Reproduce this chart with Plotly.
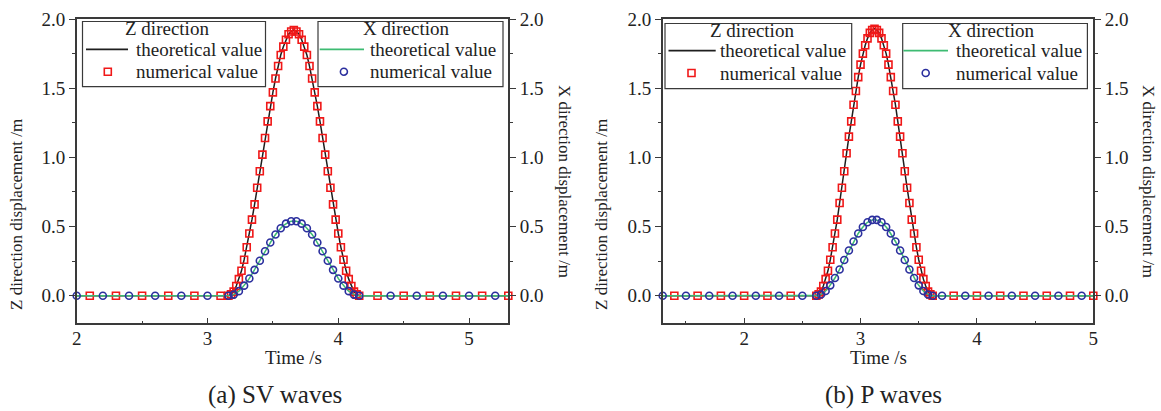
import plotly.graph_objects as go

# ---------------- data ----------------
# (a) SV waves
SV_PULSE_T = [3.16, 3.18, 3.20, 3.22, 3.24, 3.26, 3.28, 3.30, 3.32, 3.34,
              3.36, 3.38, 3.40, 3.42, 3.44, 3.46, 3.48, 3.50, 3.52, 3.54,
              3.56, 3.58, 3.60, 3.62, 3.64, 3.66, 3.68, 3.70, 3.72, 3.74,
              3.76, 3.78, 3.80, 3.82, 3.84, 3.86, 3.88, 3.90, 3.92, 3.94,
              3.96, 3.98, 4.00, 4.02, 4.04, 4.06, 4.08, 4.10, 4.12, 4.14, 4.16]
SV_Z = [0.00, 0.01, 0.03, 0.07, 0.12, 0.18, 0.26, 0.35, 0.45, 0.55,
        0.66, 0.78, 0.90, 1.02, 1.14, 1.26, 1.37, 1.47, 1.57, 1.66,
        1.74, 1.80, 1.85, 1.89, 1.91, 1.92, 1.91, 1.89, 1.85, 1.80,
        1.74, 1.66, 1.57, 1.47, 1.37, 1.26, 1.14, 1.02, 0.90, 0.78,
        0.66, 0.55, 0.45, 0.35, 0.26, 0.18, 0.12, 0.07, 0.03, 0.01, 0.00]
SV_X = [0.000, 0.002, 0.008, 0.019, 0.033, 0.052, 0.073, 0.098, 0.125, 0.155,
        0.187, 0.219, 0.253, 0.287, 0.321, 0.353, 0.385, 0.415, 0.442, 0.467,
        0.488, 0.507, 0.521, 0.532, 0.538, 0.540, 0.538, 0.532, 0.521, 0.507,
        0.488, 0.467, 0.442, 0.415, 0.385, 0.353, 0.321, 0.287, 0.253, 0.219,
        0.187, 0.155, 0.125, 0.098, 0.073, 0.052, 0.033, 0.019, 0.008, 0.002, 0.000]
SV_EDGE_T = [2.0, 5.3]
SV_EDGE_V = [0.0, 0.0]
SV_Z_BASE_T = [2.1, 2.3, 2.5, 2.7, 2.9, 3.1, 4.3, 4.5, 4.7, 4.9, 5.1, 5.3]
SV_Z_BASE_V = [0.0, 0.0, 0.0, 0.0, 0.0, 0.0, 0.0, 0.0, 0.0, 0.0, 0.0, 0.0]
SV_X_BASE_T = [2.0, 2.2, 2.4, 2.6, 2.8, 3.0, 4.4, 4.6, 4.8, 5.0, 5.2]
SV_X_BASE_V = [0.0, 0.0, 0.0, 0.0, 0.0, 0.0, 0.0, 0.0, 0.0, 0.0, 0.0]

# (b) P waves
P_PULSE_T = [2.62, 2.64, 2.66, 2.68, 2.70, 2.72, 2.74, 2.76, 2.78, 2.80,
             2.82, 2.84, 2.86, 2.88, 2.90, 2.92, 2.94, 2.96, 2.98, 3.00,
             3.02, 3.04, 3.06, 3.08, 3.10, 3.12, 3.14, 3.16, 3.18, 3.20,
             3.22, 3.24, 3.26, 3.28, 3.30, 3.32, 3.34, 3.36, 3.38, 3.40,
             3.42, 3.44, 3.46, 3.48, 3.50, 3.52, 3.54, 3.56, 3.58, 3.60, 3.62]
P_Z = [0.00, 0.01, 0.03, 0.07, 0.12, 0.18, 0.26, 0.35, 0.45, 0.55,
       0.67, 0.78, 0.90, 1.03, 1.15, 1.26, 1.38, 1.48, 1.58, 1.67,
       1.75, 1.81, 1.86, 1.90, 1.92, 1.93, 1.92, 1.90, 1.86, 1.81,
       1.75, 1.67, 1.58, 1.48, 1.38, 1.26, 1.15, 1.03, 0.90, 0.78,
       0.67, 0.55, 0.45, 0.35, 0.26, 0.18, 0.12, 0.07, 0.03, 0.01, 0.00]
P_X = [0.000, 0.002, 0.009, 0.019, 0.034, 0.053, 0.075, 0.100, 0.128, 0.158,
       0.190, 0.223, 0.258, 0.292, 0.327, 0.360, 0.392, 0.422, 0.450, 0.475,
       0.497, 0.516, 0.531, 0.541, 0.548, 0.550, 0.548, 0.541, 0.531, 0.516,
       0.497, 0.475, 0.450, 0.422, 0.392, 0.360, 0.327, 0.292, 0.258, 0.223,
       0.190, 0.158, 0.128, 0.100, 0.075, 0.053, 0.034, 0.019, 0.009, 0.002, 0.000]
P_EDGE_T = [1.3, 5.0]
P_EDGE_V = [0.0, 0.0]
P_Z_BASE_T = [1.4, 1.6, 1.8, 2.0, 2.2, 2.4, 3.8, 4.0, 4.2, 4.4, 4.6, 4.8, 5.0]
P_Z_BASE_V = [0.0, 0.0, 0.0, 0.0, 0.0, 0.0, 0.0, 0.0, 0.0, 0.0, 0.0, 0.0, 0.0]
P_X_BASE_T = [1.3, 1.5, 1.7, 1.9, 2.1, 2.3, 2.5, 3.7, 3.9, 4.1, 4.3, 4.5, 4.7, 4.9]
P_X_BASE_V = [0.0, 0.0, 0.0, 0.0, 0.0, 0.0, 0.0, 0.0, 0.0, 0.0, 0.0, 0.0, 0.0, 0.0]

Y_RANGE = [-0.2, 2.0]
SV_X_RANGE = [2.0, 5.3]
P_X_RANGE = [1.3, 5.0]

LEG_THEORY = "theoretical value"
LEG_NUM = "numerical value"
Z_TITLE = "Z direction"
X_TITLE = "X direction"
X_AXIS_TITLE = "Time /s"
YL_TITLE = "Z direction displacement /m"
YR_TITLE = "X direction displacement /m"
CAPTIONS = ["(a) SV waves", "(b) P waves"]

# ---------------- styling ----------------
FONT = "Liberation Serif, Times New Roman, Times, serif"
TXT = "#222222"
AX = "#3a3a3a"
C_ZLINE = "#1e1e1e"
C_XLINE = "#3dbb72"
C_RED = "#f01818"
C_BLUE = "#2b2f9e"
W, H = 1161, 411


def line_xy(edge_t, edge_v, pt, pv):
    return ([edge_t[0]] + pt + [edge_t[1]], [edge_v[0]] + pv + [edge_v[1]])


def sorted_xy(t1, v1, t2, v2):
    pairs = sorted(zip(t1 + t2, v1 + v2))
    return [p[0] for p in pairs], [p[1] for p in pairs]


fig = go.Figure()

panels = [
    dict(x="x", yl="y", yr="y2", edge_t=SV_EDGE_T, edge_v=SV_EDGE_V, pt=SV_PULSE_T, z=SV_Z, xv=SV_X,
         zb_t=SV_Z_BASE_T, zb_v=SV_Z_BASE_V, xb_t=SV_X_BASE_T, xb_v=SV_X_BASE_V),
    dict(x="x2", yl="y3", yr="y4", edge_t=P_EDGE_T, edge_v=P_EDGE_V, pt=P_PULSE_T, z=P_Z, xv=P_X,
         zb_t=P_Z_BASE_T, zb_v=P_Z_BASE_V, xb_t=P_X_BASE_T, xb_v=P_X_BASE_V),
]

for p in panels:
    lt, lv = line_xy(p["edge_t"], p["edge_v"], p["pt"], p["z"])
    fig.add_trace(go.Scatter(x=lt, y=lv, mode="lines", name=Z_TITLE + " " + LEG_THEORY,
                             xaxis=p["x"], yaxis=p["yl"], line=dict(color=C_ZLINE, width=1.5)))
    mt, mv = sorted_xy(p["zb_t"], p["zb_v"], p["pt"], p["z"])
    fig.add_trace(go.Scatter(x=mt, y=mv, mode="markers", name=Z_TITLE + " " + LEG_NUM,
                             xaxis=p["x"], yaxis=p["yl"], cliponaxis=False,
                             marker=dict(symbol="square-open", size=7, color=C_RED, line=dict(width=1.6))))
    lt, lv = line_xy(p["edge_t"], p["edge_v"], p["pt"], p["xv"])
    fig.add_trace(go.Scatter(x=lt, y=lv, mode="lines", name=X_TITLE + " " + LEG_THEORY,
                             xaxis=p["x"], yaxis=p["yr"], line=dict(color=C_XLINE, width=1.5)))
    mt, mv = sorted_xy(p["xb_t"], p["xb_v"], p["pt"][::2], p["xv"][::2])
    fig.add_trace(go.Scatter(x=mt, y=mv, mode="markers", name=X_TITLE + " " + LEG_NUM,
                             xaxis=p["x"], yaxis=p["yr"], cliponaxis=False,
                             marker=dict(symbol="circle-open", size=7, color=C_BLUE, line=dict(width=1.6))))

tickfont = dict(family=FONT, size=19, color=TXT)
YDOM = [1 - 323.4 / H, 1 - 19 / H]


def xaxis(dom, rng, anchor):
    return dict(domain=dom, range=rng, anchor=anchor, showgrid=False, zeroline=False, automargin=False,
                showline=True, linecolor=AX, linewidth=1.5, mirror=True,
                ticks="inside", ticklen=6, tickwidth=1.3, tickcolor=AX, ticklabelstandoff=-3,
                tick0=2, dtick=1, tickfont=tickfont,
                minor=dict(ticks="inside", ticklen=3, dtick=0.5, tick0=2, tickcolor=AX, tickwidth=1.3))


def yaxis(anchor, side, overlay=None):
    d = dict(domain=YDOM, range=Y_RANGE, anchor=anchor, side=side, showgrid=False, zeroline=False,
             automargin=False, showline=True, linecolor=AX, linewidth=1.5,
             ticks="outside", ticklen=6, tickwidth=1.3, tickcolor=AX,
             tick0=0, dtick=0.5, tickformat=".1f", tickfont=tickfont,
             minor=dict(ticks="outside", ticklen=3, dtick=0.25, tick0=0, tickcolor=AX, tickwidth=1.3))
    if overlay:
        d["overlaying"] = overlay
    return d


def px(x):
    return x / W


def py(y):
    return 1 - y / H


def ann(text, x, y, size=19, angle=0, xanchor="center"):
    return dict(text=text, x=px(x), y=py(y), xref="paper", yref="paper", showarrow=False,
                textangle=angle, xanchor=xanchor, yanchor="middle",
                font=dict(family=FONT, size=size, color=TXT))


annotations = [
    ann(X_AXIS_TITLE, 293, 357),
    ann(X_AXIS_TITLE, 878, 357),
    ann(CAPTIONS[0], 275, 395, size=25),
    ann(CAPTIONS[1], 883, 395, size=25),
    ann(YL_TITLE, 16, 215, size=17, angle=-90),
    ann(YR_TITLE, 565, 181, size=17, angle=90),
    ann(YL_TITLE, 601, 215, size=17, angle=-90),
    ann(YR_TITLE, 1149, 181, size=17, angle=90),
]
shapes = []

# legend boxes (decoration, pixel layout)
LEGENDS = [
    dict(box=(82.5, 21.5, 265.5, 86.7), title=Z_TITLE, tx=122.7, ty=28.5, r2=49.3, r3=71.7,
         lx=(86, 128), txt=133.8, mx=107.8, kind="z"),
    dict(box=(318, 21.5, 503, 86.7), title=X_TITLE, tx=360.6, ty=28.5, r2=49.3, r3=71.7,
         lx=(319.7, 364), txt=368, mx=343.9, kind="x"),
    dict(box=(665, 23.5, 851.7, 88.7), title=Z_TITLE, tx=708, ty=30.5, r2=50.7, r3=73.0,
         lx=(668.5, 715.7), txt=717.5, mx=691.5, kind="z"),
    dict(box=(902.7, 23.5, 1087.4, 88.7), title=X_TITLE, tx=946, ty=30.5, r2=50.7, r3=73.0,
         lx=(903.4, 948), txt=953.6, mx=925.7, kind="x"),
]
for L in LEGENDS:
    x0, y0, x1, y1 = L["box"]
    shapes.append(dict(type="rect", xref="paper", yref="paper", x0=px(x0), x1=px(x1), y0=py(y1), y1=py(y0),
                       line=dict(color=AX, width=1.2), fillcolor="white", layer="above"))
    annotations.append(ann(L["title"], L["tx"], L["ty"], size=19, xanchor="left"))
    annotations.append(ann(LEG_THEORY, L["txt"], L["r2"], size=19, xanchor="left"))
    annotations.append(ann(LEG_NUM, L["txt"], L["r3"], size=19, xanchor="left"))
    lcol = C_ZLINE if L["kind"] == "z" else C_XLINE
    shapes.append(dict(type="line", xref="paper", yref="paper", x0=px(L["lx"][0]), x1=px(L["lx"][1]),
                       y0=py(L["r2"]), y1=py(L["r2"]), line=dict(color=lcol, width=1.8), layer="above"))
    r = 3.5
    shapes.append(dict(type="rect" if L["kind"] == "z" else "circle", xref="paper", yref="paper",
                       x0=px(L["mx"] - r), x1=px(L["mx"] + r), y0=py(L["r3"] + r), y1=py(L["r3"] - r),
                       line=dict(color=C_RED if L["kind"] == "z" else C_BLUE, width=1.6),
                       fillcolor="rgba(0,0,0,0)", layer="above"))

fig.update_layout(
    width=W, height=H, margin=dict(l=0, r=0, t=0, b=0),
    paper_bgcolor="white", plot_bgcolor="white", showlegend=False,
    xaxis=xaxis([76.7 / W, 508.3 / W], SV_X_RANGE, "y"),
    yaxis=yaxis("x", "left"),
    yaxis2=yaxis("x", "right", "y"),
    xaxis2=xaxis([662.7 / W, 1093.3 / W], P_X_RANGE, "y3"),
    yaxis3=yaxis("x2", "left"),
    yaxis4=yaxis("x2", "right", "y3"),
    annotations=annotations,
    shapes=shapes,
)

fig.write_html("out.html", config={"displayModeBar": False},
               post_script="document.body.style.margin='0px';")
